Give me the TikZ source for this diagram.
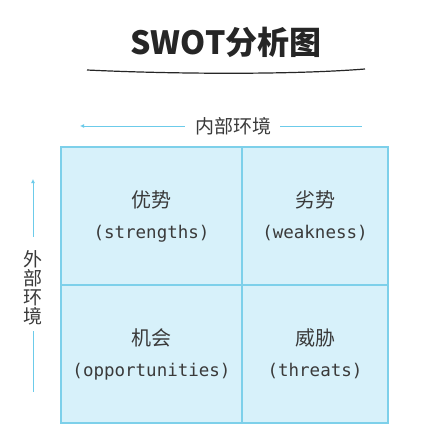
\documentclass[tikz,border=0pt]{standalone}
\usepackage{fontspec}
\setmainfont{DejaVu Sans Mono}
\newfontfamily\cjk{Noto Sans CJK SC}
\usetikzlibrary{arrows.meta}
\definecolor{cellfill}{HTML}{D7F1FA}
\definecolor{cellline}{HTML}{7DD0EA}
\definecolor{arrowc}{HTML}{6CCBEA}
\definecolor{txt}{HTML}{3A3A3A}
\tikzset{
  cell/.style={draw=cellline, line width=1.3pt, fill=cellfill, inner sep=0pt},
  celltext/.style={text=txt, font=\fontsize{17.5}{31}\selectfont, align=center},
  axis/.style={draw=arrowc, line width=1pt},
  axislabel/.style={text=txt, font=\cjk\fontsize{19}{19}\selectfont, inner sep=0pt},
}
\newcommand{\zh}[1]{{\cjk\fontsize{20}{20}\selectfont #1}}
\begin{document}
\begin{tikzpicture}[x=1pt,y=-1pt]
\useasboundingbox (0,0) rectangle (421,434);
\fill[white] (0,0) rectangle (421,434);
% title
\node[text=black!85, font=\cjk\fontsize{32}{34}\selectfont\bfseries] (title) at (226,42) {SWOT分析图};
\draw[line width=1.2pt, black!85] (87,70) .. controls (170,74) and (290,75) .. (365,69);
% grid
\node[cell, minimum width=181pt, minimum height=138pt] (c1) at (151.5,216) {};
\node[cell, minimum width=146pt, minimum height=138pt] (c2) at (315,216) {};
\node[cell, minimum width=181pt, minimum height=138pt] (c3) at (151.5,354) {};
\node[cell, minimum width=146pt, minimum height=138pt] (c4) at (315,354) {};
\node[celltext] (t1) at (151.5,216) {\zh{优势}\\(strengths)};
\node[celltext] (t2) at (315,216) {\zh{劣势}\\(weakness)};
\node[celltext] (t3) at (151.5,354) {\zh{机会}\\(opportunities)};
\node[celltext] (t4) at (315,354) {\zh{威胁}\\(threats)};
% top axis
\node[axislabel] (inner) at (233,126) {内部环境};
\coordinate (topL) at (80,126);
\coordinate (topR) at (362,126);
\draw[axis, -{Latex[length=4pt,width=4pt]}] (inner.west) ++(-10,0) -- (topL);
\draw[axis] (inner.east) ++(9,0) -- (topR);
% left axis
\node[axislabel, align=center] (outer) at (33,288) {外\\部\\环\\境};
\coordinate (leftT) at (33,179);
\coordinate (leftB) at (33,392);
\draw[axis, -{Latex[length=4pt,width=4pt]}] (outer.north) ++(0,-14) -- (leftT);
\draw[axis] (outer.south) ++(0,6) -- (leftB);
\end{tikzpicture}
\end{document}
